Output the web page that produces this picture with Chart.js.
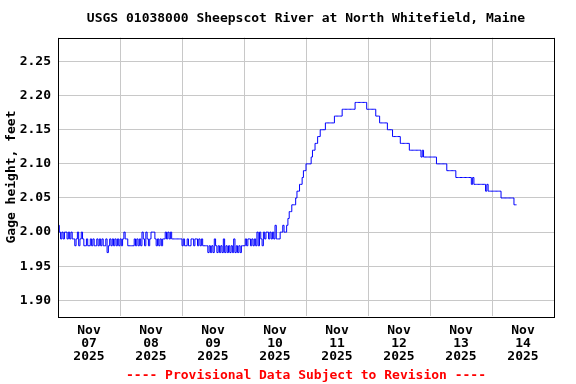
<!DOCTYPE html>
<html>
<head>
<meta charset="utf-8">
<script src="https://cdn.jsdelivr.net/npm/chart.js@4.4.1/dist/chart.umd.min.js"></script>
<style>
  html, body { margin: 0; padding: 0; background: #fff; }
  canvas { display: block; }
</style>
</head>
<body>
<canvas id="gageChart" width="576" height="384"></canvas>
<script>
// ===== DATA (half-hourly readings, feet) =====
const startHour = 0;       // Nov 07 2025 00:00
const stepHours = 0.5;

const nov07 = [2.01,
  2.00,1.99,2.00,1.99,2.00,2.00,1.99,2.00,1.99,2.00,1.99,1.99,
  1.98,1.99,2.00,1.98,1.99,2.00,1.99,1.98,
  1.98,1.99,1.98,1.98,1.99,1.98,1.99,1.98,1.98,1.99,1.98,1.99,1.98,1.99,1.98,1.98,1.99,
  1.97,
  1.98,1.99,1.98,1.99,1.98,1.99,1.98,1.99,1.98];
const nov08 = [1.99,1.98,1.99, 2.00, 1.99,1.99,
  1.98,1.98,1.98,1.98,1.98,
  1.99,1.98,1.99,1.98,1.99,1.98,
  2.00,1.99,1.98,2.00,1.99,1.98,1.99,
  2.00,2.00,2.00,
  1.99,1.98,1.99,1.98,1.99,1.98,1.99,1.99,
  2.00,1.99,2.00,1.99,2.00,1.99,
  1.99,1.99,1.99,1.99,1.99,1.99,1.99];
const nov09 = [1.98,1.99,1.98,1.98,1.99,1.98,1.98,1.99,
  1.99,1.98,1.99,1.99,1.98,1.99,1.98,1.99,
  1.98,1.98,1.98,1.98,
  1.97,1.98,1.97,1.98,1.97,1.99,1.98,1.97,1.98,1.97,1.98,1.97,1.99,
  1.97,1.98,1.97,1.98,1.97,1.98,1.97,1.99,1.97,1.98,1.97,1.98,1.97,
  1.98,1.98];
const nov10 = [1.98,1.99,1.98,1.99,1.99,1.98,1.99,1.98,1.99,1.98,
  2.00,1.98,2.00,1.99,1.98,2.00,1.99,2.00,
  2.00,1.99,2.00,1.99,2.00,1.99,2.01,
  1.99,1.99,1.99,
  2.00,2.00,2.01,2.00,2.00,2.01,2.02,2.03,2.03,2.04,2.04,2.04,
  2.05,2.06,2.06,2.07,2.07,2.08,2.09,2.09];
const nov11 = [2.10,2.10,2.10,2.10, 2.11, 2.12,2.12, 2.13,2.13, 2.14,2.14,
  2.15,2.15,2.15,2.15,
  2.16,2.16,2.16,2.16,2.16,2.16,2.16,
  2.17,2.17,2.17,2.17,2.17,2.17,
  2.18,2.18,2.18,2.18,2.18,2.18,2.18,2.18,2.18,2.18,
  2.19,2.19,2.19,2.19,2.19,2.19,2.19,2.19,2.19,
  2.18];
const nov12 = [2.18,2.18,2.18,2.18,2.18,2.18,
  2.17,2.17,2.17,
  2.16,2.16,2.16,2.16,2.16,2.16,
  2.15,2.15,2.15,2.15,
  2.14,2.14,2.14,2.14,2.14,2.14,
  2.13,2.13,2.13,2.13,2.13,2.13,2.13,
  2.12,2.12,2.12,2.12,2.12,2.12,2.12,2.12,2.12,
  2.11,2.12,2.11,2.11,2.11,2.11,2.11];
const nov13 = [2.11,2.11,2.11,2.11,2.11,
  2.10,2.10,2.10,2.10,2.10,2.10,2.10,2.10,
  2.09,2.09,2.09,2.09,2.09,2.09,2.09,
  2.08,2.08,2.08,2.08,2.08,2.08,2.08,2.08,2.08,2.08,2.08,2.08,
  2.07,2.08,2.07,
  2.07,2.07,2.07,2.07,2.07,2.07,2.07,2.07,
  2.06,2.07,2.06,2.06,2.06];
const nov14 = [2.06,2.06,2.06,2.06,2.06,2.06,2.06,
  2.05,2.05,2.05,2.05,2.05,2.05,2.05,2.05,2.05,2.05,
  2.04,2.04,2.04];

const dayLabels = ['07', '08', '09', '10', '11', '12', '13', '14'];
const yTicks = [1.90, 1.95, 2.00, 2.05, 2.10, 2.15, 2.20, 2.25];

const gage = [].concat(nov07, nov08, nov09, nov10, nov11, nov12, nov13, nov14);
const points = gage.map((v, i) => ({ x: startHour + i * stepHours, y: v }));

// ===== FRAME =====
const framePlugin = {
  id: 'frame',
  afterDraw(chart) {
    const { ctx, chartArea: a } = chart;
    ctx.save();
    ctx.strokeStyle = '#000';
    ctx.lineWidth = 1;
    ctx.strokeRect(Math.round(a.left) + 0.5, Math.round(a.top) + 0.5,
      Math.round(a.right - a.left), Math.round(a.bottom - a.top));
    ctx.restore();
  }
};

const mono = { family: "'DejaVu Sans Mono', monospace", size: 13, weight: 'bold' };

new Chart(document.getElementById('gageChart'), {
  type: 'line',
  data: {
    datasets: [{
      data: points,
      borderColor: '#0000ff',
      borderWidth: 1,
      pointRadius: 0,
      stepped: true,
      fill: false
    }]
  },
  options: {
    responsive: false,
    animation: false,
    devicePixelRatio: 1,
    layout: { padding: { left: 3, right: 22, top: 0, bottom: 0 } },
    plugins: {
      legend: { display: false },
      tooltip: { enabled: false },
      title: {
        display: true,
        fullSize: false,
        text: 'USGS 01038000 Sheepscot River at North Whitefield, Maine',
        color: '#000',
        font: { ...mono, lineHeight: 1.2 },
        padding: { top: 11, bottom: 11 }
      },
      subtitle: {
        display: true,
        fullSize: false,
        position: 'bottom',
        text: '---- Provisional Data Subject to Revision ----',
        color: '#ff0000',
        font: { ...mono, lineHeight: 1.2 },
        padding: { top: 5, bottom: 1 }
      }
    },
    scales: {
      x: {
        type: 'linear',
        min: 0,
        max: 192,
        afterBuildTicks: scale => {
          const t = [];
          for (let h = 0; h <= 192; h += 12) t.push({ value: h });
          scale.ticks = t;
        },
        afterFit: scale => { scale.height = 46; },
        grid: {
          color: ctx => (ctx.tick && ctx.tick.value % 24 === 0) ? '#c8c8c8' : 'rgba(0,0,0,0)',
          drawTicks: false
        },
        border: { display: false },
        ticks: {
          autoSkip: false,
          maxRotation: 0,
          padding: 8,
          color: '#000',
          font: { ...mono, lineHeight: 1.0 },
          callback: v => (v % 24 === 12) ? ['Nov', dayLabels[Math.floor(v / 24)], '2025'] : ''
        }
      },
      y: {
        min: 1.8765,
        max: 2.285,
        afterBuildTicks: scale => { scale.ticks = yTicks.map(v => ({ value: v })); },
        afterFit: scale => { scale.width = 55; },
        grid: { color: '#c8c8c8', drawTicks: false },
        border: { display: false },
        ticks: {
          padding: 7,
          color: '#000',
          font: mono,
          callback: v => v.toFixed(2)
        },
        title: {
          display: true,
          text: 'Gage height, feet',
          color: '#000',
          font: { ...mono, lineHeight: 1.2 },
          padding: 1
        }
      }
    }
  },
  plugins: [framePlugin]
});
</script>
</body>
</html>
